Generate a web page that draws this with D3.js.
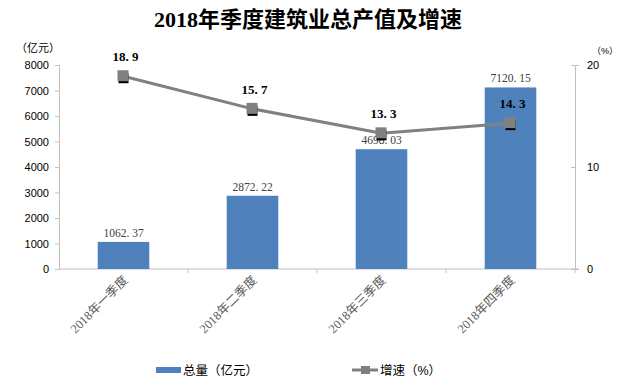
<!DOCTYPE html>
<html><head><meta charset="utf-8">
<script src="https://cdn.jsdelivr.net/npm/d3@7"></script>
<style>
body{margin:0;background:#fff;}
svg{display:block;}
</style></head>
<body>
<svg id="c" width="637" height="392"></svg>
<script>
const categories = ["2018年一季度","2018年二季度","2018年三季度","2018年四季度"];
const totals = [1062.37, 2872.22, 4698.03, 7120.15];
const growth = [18.9, 15.7, 13.3, 14.3];
const leftTicks = [0,1000,2000,3000,4000,5000,6000,7000,8000];
const rightTicks = [0,10,20];

const svg = d3.select("#c");
const serif = "'Liberation Serif','Noto Sans CJK SC',serif";
const sans = "'Liberation Sans','Noto Sans CJK SC',sans-serif";
const L = 59, R = 575, T = 65, B = 269;

const x = d3.scaleBand().domain(categories).range([L, R]).paddingInner(0.6).paddingOuter(0.3);
const xc = d3.scaleBand().domain(categories).range([L, R]);
const y = d3.scaleLinear().domain([0, 8000]).range([B, T]);
const y2 = d3.scaleLinear().domain([0, 20]).range([B, T]);

svg.append("text").attr("x", 308).attr("y", 27).attr("text-anchor", "middle")
  .attr("font-family", serif).attr("font-weight", "bold").attr("font-size", 22).attr("fill", "#000")
  .text("2018年季度建筑业总产值及增速");

// left axis
const ga = svg.append("g").attr("transform", `translate(${L},0)`)
  .call(d3.axisLeft(y).tickValues(leftTicks).tickFormat(d3.format("d")).tickSize(4).tickPadding(6));
ga.selectAll("path,line").attr("stroke", "#bfbfbf");
ga.selectAll("text").attr("font-family", sans).attr("font-size", 11).attr("fill", "#000");

// right axis
const gr = svg.append("g").attr("transform", `translate(${R},0)`)
  .call(d3.axisRight(y2).tickValues(rightTicks).tickFormat(d3.format("d")).tickSize(4).tickPadding(8));
gr.selectAll("path,line").attr("stroke", "#bfbfbf");
gr.selectAll("text").attr("font-family", sans).attr("font-size", 11).attr("fill", "#000");
gr.selectAll(".tick line").attr("x1", -4).attr("x2", 0);

// bottom axis
const gb = svg.append("g").attr("transform", `translate(0,${B})`);
gb.append("line").attr("x1", L).attr("x2", R + 4).attr("stroke", "#bfbfbf");
gb.selectAll("line.t").data(categories).enter().append("line").attr("class", "t")
  .attr("x1", d => xc(d) + xc.bandwidth()).attr("x2", d => xc(d) + xc.bandwidth())
  .attr("y1", 0).attr("y2", 4).attr("stroke", "#bfbfbf");
gb.selectAll("text").data(categories).enter().append("text")
  .attr("transform", d => `translate(${xc(d) + xc.bandwidth() / 2 + 5},${12}) rotate(-45)`)
  .attr("text-anchor", "end").attr("font-family", serif).attr("font-size", 12.5).attr("fill", "#595959")
  .text(d => d);

// axis unit labels
svg.append("text").attr("x", 38).attr("y", 52).attr("text-anchor", "middle")
  .attr("font-family", sans).attr("font-size", 11).attr("fill", "#000").text("（亿元）");
svg.append("text").attr("x", 605).attr("y", 54).attr("text-anchor", "middle")
  .attr("font-family", sans).attr("font-size", 9).attr("fill", "#000").text("（%）");

// bars
svg.selectAll("rect.bar").data(categories).enter().append("rect").attr("class", "bar")
  .attr("x", d => x(d)).attr("width", x.bandwidth())
  .attr("y", (d, i) => y(totals[i])).attr("height", (d, i) => B - y(totals[i]))
  .attr("fill", "#4f81bd");
svg.selectAll("text.bl").data(categories).enter().append("text").attr("class", "bl")
  .attr("x", d => x(d) + x.bandwidth() / 2).attr("y", (d, i) => y(totals[i]) - 5)
  .attr("text-anchor", "middle").attr("font-family", serif).attr("font-size", 11.5).attr("fill", "#404040")
  .text((d, i) => totals[i].toFixed(2).replace(".", ". "));

// line
const cx = d => xc(d) + xc.bandwidth() / 2;
const line = d3.line().x((d, i) => cx(categories[i])).y(d => y2(d));
svg.append("path").datum(growth).attr("d", line).attr("fill", "none")
  .attr("stroke", "#808080").attr("stroke-width", 3);
svg.selectAll("rect.sh").data(categories).enter().append("rect").attr("class", "sh")
  .attr("x", (d) => cx(d) - 5).attr("y", (d, i) => y2(growth[i]) - 3)
  .attr("width", 10).attr("height", 10).attr("fill", "#000");
svg.selectAll("rect.mk").data(categories).enter().append("rect").attr("class", "mk")
  .attr("x", (d) => cx(d) - 6).attr("y", (d, i) => y2(growth[i]) - 6)
  .attr("width", 11).attr("height", 11).attr("fill", "#808080");
svg.selectAll("text.gl").data(categories).enter().append("text").attr("class", "gl")
  .attr("x", d => cx(d) + 2).attr("y", (d, i) => y2(growth[i]) - 15)
  .attr("text-anchor", "middle").attr("font-family", serif).attr("font-weight", "bold")
  .attr("font-size", 13).attr("fill", "#000")
  .text((d, i) => growth[i].toFixed(1).replace(".", ". "));

// legend
const lg = svg.append("g");
lg.append("rect").attr("x", 156).attr("y", 367).attr("width", 25).attr("height", 6).attr("fill", "#4f81bd");
lg.append("text").attr("x", 183).attr("y", 375).attr("font-family", sans).attr("font-size", 12.5)
  .attr("fill", "#000").text("总量（亿元）");
lg.append("line").attr("x1", 352).attr("x2", 378).attr("y1", 370).attr("y2", 370)
  .attr("stroke", "#808080").attr("stroke-width", 3);
lg.append("rect").attr("x", 361).attr("y", 366).attr("width", 9).attr("height", 8).attr("fill", "#808080");
lg.append("text").attr("x", 380).attr("y", 375).attr("font-family", sans).attr("font-size", 12.5)
  .attr("fill", "#000").text("增速（%）");
</script>
</body></html>
